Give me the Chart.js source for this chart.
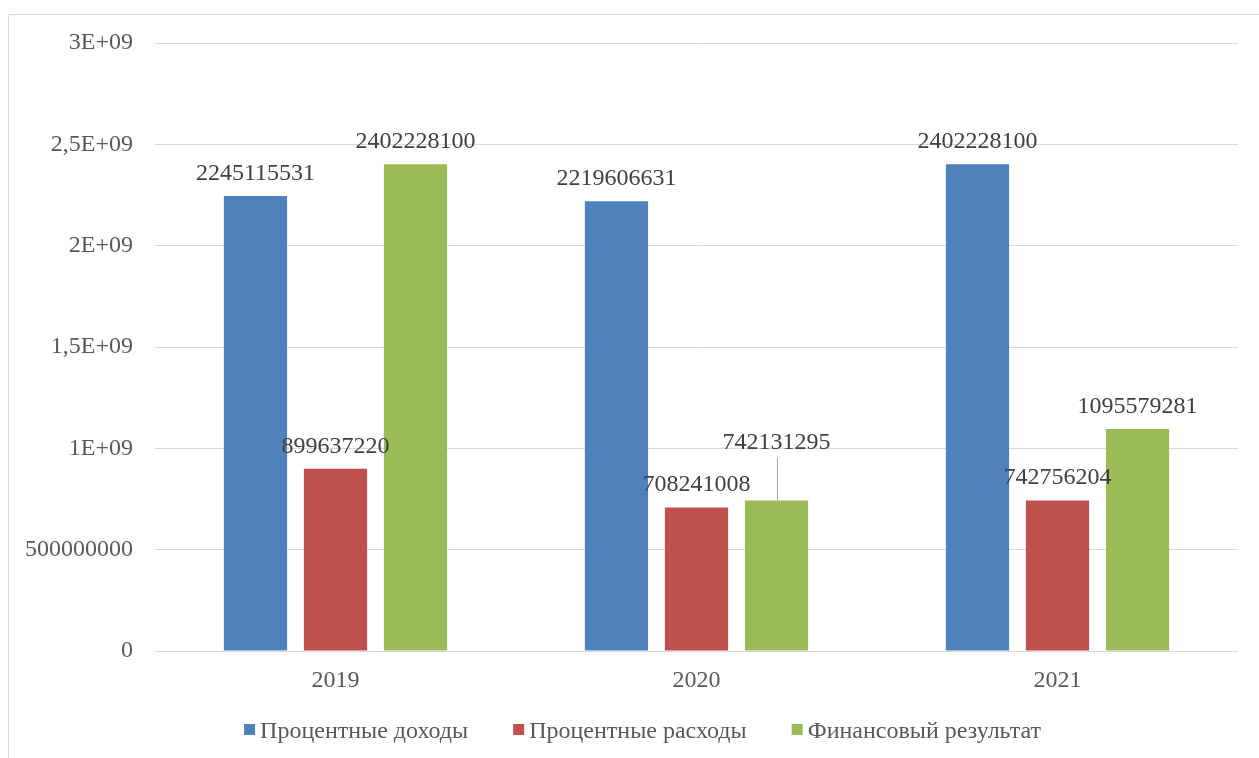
<!DOCTYPE html>
<html>
<head>
<meta charset="utf-8">
<script src="https://cdn.jsdelivr.net/npm/chart.js@4/dist/chart.umd.min.js"></script>
<style>
  html, body { margin: 0; padding: 0; background: #ffffff; }
  canvas { display: block; }
</style>
</head>
<body>
<canvas id="chart" width="1259" height="758"></canvas>
<script>
// Годы отчётного периода
const years = ['2019', '2020', '2021'];

// Показатели, руб.
const interestIncome   = [2245115531, 2219606631, 2402228100];
const interestExpenses = [899637220, 708241008, 742756204];
const financialResult  = [2402228100, 742131295, 1095579281];

// Подписи делений оси значений
const yTickLabels = ['0', '500000000', '1E+09', '1,5E+09', '2E+09', '2,5E+09', '3E+09'];

const seriesNames = ['Процентные доходы', 'Процентные расходы', 'Финансовый результат'];
const seriesColors = ['#4F81BD', '#C0504D', '#9BBB59'];

const FONT = '"Liberation Serif", "Times New Roman", serif';

// Подпись, поднятая выше столбца с выноской: [серия, категория, доп. подъём]
const raisedLabels = [[2, 1, 36]];

// Рамка области диаграммы
const framePlugin = {
  id: 'frame',
  beforeDraw(chart) {
    const ctx = chart.ctx;
    ctx.save();
    ctx.strokeStyle = '#d9d9d9';
    ctx.lineWidth = 1;
    ctx.beginPath();
    ctx.moveTo(8.5, 758);
    ctx.lineTo(8.5, 14.5);
    ctx.lineTo(1259, 14.5);
    ctx.stroke();
    ctx.restore();
  }
};

// Подписи значений над столбцами
const valueLabelsPlugin = {
  id: 'valueLabels',
  afterDatasetsDraw(chart) {
    const ctx = chart.ctx;
    ctx.save();
    ctx.font = '24px ' + FONT;
    ctx.fillStyle = '#404040';
    ctx.textAlign = 'center';
    ctx.textBaseline = 'alphabetic';
    chart.data.datasets.forEach((ds, di) => {
      const meta = chart.getDatasetMeta(di);
      meta.data.forEach((bar, i) => {
        let lift = 0;
        raisedLabels.forEach(r => { if (r[0] === di && r[1] === i) lift = r[2]; });
        const baseY = bar.y - 16 - lift;
        if (lift > 0) {
          ctx.save();
          ctx.strokeStyle = '#a6a6a6';
          ctx.lineWidth = 1;
          ctx.beginPath();
          ctx.moveTo(Math.round(bar.x) + 0.5, baseY + 9);
          ctx.lineTo(Math.round(bar.x) + 0.5, bar.y);
          ctx.stroke();
          ctx.restore();
        }
        ctx.fillText(String(ds.data[i]), bar.x, baseY);
      });
    });
    ctx.restore();
  }
};

// Легенда под диаграммой
const legendPlugin = {
  id: 'bottomLegend',
  afterDraw(chart) {
    const ctx = chart.ctx;
    ctx.save();
    ctx.font = '24px ' + FONT;
    const box = 11, gap = 5, spacing = 45;
    const widths = chart.data.datasets.map(ds => ctx.measureText(ds.label).width);
    const total = widths.reduce((a, w) => a + box + gap + w, 0) + spacing * (widths.length - 1);
    let x = 642.5 - total / 2;
    const baseline = 738;
    chart.data.datasets.forEach((ds, i) => {
      ctx.fillStyle = ds.backgroundColor;
      ctx.fillRect(x, 724, box, box);
      x += box + gap;
      ctx.fillStyle = '#595959';
      ctx.textAlign = 'left';
      ctx.textBaseline = 'alphabetic';
      ctx.fillText(ds.label, x, baseline);
      x += widths[i] + spacing;
    });
    ctx.restore();
  }
};

new Chart(document.getElementById('chart'), {
  type: 'bar',
  data: {
    labels: years,
    datasets: [
      { label: seriesNames[0], data: interestIncome,   backgroundColor: seriesColors[0] },
      { label: seriesNames[1], data: interestExpenses, backgroundColor: seriesColors[1] },
      { label: seriesNames[2], data: financialResult,  backgroundColor: seriesColors[2] }
    ]
  },
  options: {
    responsive: false,
    animation: false,
    devicePixelRatio: 1,
    layout: { padding: { left: 0, top: 43, right: 21, bottom: 57 } },
    datasets: {
      bar: { categoryPercentage: 0.665, barPercentage: 0.79, borderWidth: 0 }
    },
    plugins: {
      legend: { display: false },
      tooltip: { enabled: false },
      title: { display: false }
    },
    scales: {
      x: {
        grid: { display: false },
        border: { display: false },
        ticks: { color: '#595959', font: { family: FONT, size: 24 }, padding: 7 },
        afterFit(scale) { scale.height = 50; }
      },
      y: {
        min: 0,
        max: 3000000000,
        grid: { color: '#d9d9d9', lineWidth: 1, drawTicks: false },
        border: { display: false },
        ticks: {
          stepSize: 500000000,
          color: '#595959',
          font: { family: FONT, size: 24 },
          padding: 22,
          callback: (v, i) => yTickLabels[i]
        },
        afterFit(scale) { scale.width = 155; }
      }
    }
  },
  plugins: [framePlugin, valueLabelsPlugin, legendPlugin]
});
</script>
</body>
</html>
